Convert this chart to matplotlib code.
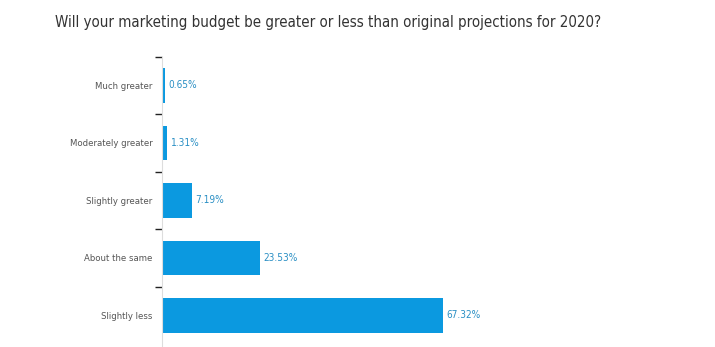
import numpy as np
import matplotlib.pyplot as plt

# data
categories = ["Much greater", "Moderately greater", "Slightly greater",
              "About the same", "Slightly less"]
values = [0.65, 1.31, 7.19, 23.53, 67.32]

plt.rcParams['font.family'] = ['DejaVu Sans']
plt.rcParams['font.stretch'] = 'condensed'

W, H = 715, 347
fig = plt.figure(figsize=(W / 100, H / 100), dpi=100)
ax = fig.add_axes([162 / W, 1 / H, 528 / W, (346 - 56.5) / H])

y = np.arange(len(categories))
ax.barh(y, values, height=0.6, color="#0B99E0")
for yi, v in zip(y, values):
    ax.text(v + 0.8, yi, f"{v:.2f}%", va="center", ha="left",
            fontsize=7.2, color="#2A8FC4")

# keep band spacing ~57.5 px; slight extra room at bottom
ax.set_ylim(len(categories) - 0.5 + 2 / 57.5, -0.5)
ax.set_xlim(0, 528 / 4.17)
ax.set_yticks(y)
ax.set_yticklabels(categories, fontsize=6.8, color="#555555")
ax.set_yticks(np.arange(-0.5, len(categories) - 1, 1.0), minor=True)
ax.tick_params(axis="y", which="major", length=0, pad=7)
ax.tick_params(axis="y", which="minor", length=5, color="#222222", width=1, pad=0)
ax.set_xticks([])
for s in ["top", "right", "bottom"]:
    ax.spines[s].set_visible(False)
ax.spines["left"].set_color("#dddddd")
ax.spines["left"].set_linewidth(0.8)

fig.text(55 / W, 1 - 22 / H, "Will your marketing budget be greater or less than original projections for 2020?",
         fontsize=10.8, color="#333333", va="center", ha="left")

fig.savefig("out.png", dpi=100, facecolor="white")
